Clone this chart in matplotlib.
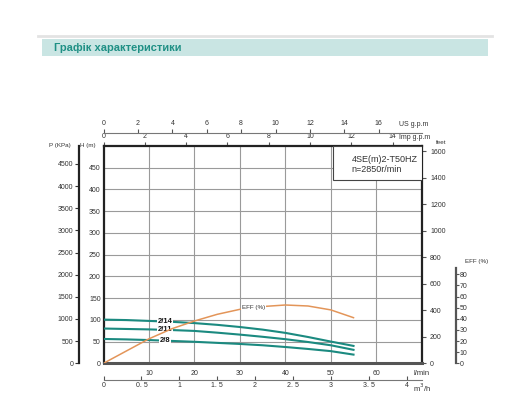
import matplotlib
matplotlib.use("Agg")
import matplotlib.pyplot as plt
from matplotlib.patches import Rectangle
import numpy as np

plt.rcParams['font.family'] = ['Liberation Sans', 'DejaVu Sans']

# flow (l/min) and head (m)
q = [0, 5, 10, 15, 20, 25, 30, 35, 40, 45, 50, 55]
head_2_14 = [100.5, 99.5, 97.5, 95.5, 92.5, 88.5, 83.5, 77.5, 70, 60.5, 50, 40]
head_2_11 = [80, 79, 78, 76.5, 74.5, 70.5, 66, 61, 55.5, 49, 41.5, 31]
head_2_8 = [56, 55, 53.5, 51.5, 49.5, 47, 44.5, 41.5, 37.5, 33, 28, 20]
eff = [0, 11, 22, 31, 38, 44, 48.5, 51, 52.4, 51.5, 48, 41]

curve_names = ['2/14', '2/11', '2/8']
us_ticks = [0, 2, 4, 6, 8, 10, 12, 14, 16]
imp_ticks = [0, 2, 4, 6, 8, 10, 12, 14]
lmin_ticks = [10, 20, 30, 40, 50, 60]
m3h_ticks = [0, 0.5, 1, 1.5, 2, 2.5, 3, 3.5, 4]
m3h_labels = ['0', '0. 5', '1', '1. 5', '2', '2. 5', '3', '3. 5', '4']
h_ticks = [0, 50, 100, 150, 200, 250, 300, 350, 400, 450]
p_ticks = [0, 500, 1000, 1500, 2000, 2500, 3000, 3500, 4000, 4500]
ft_ticks = [0, 200, 400, 600, 800, 1000, 1200, 1400, 1600]
eff_ticks = [0, 10, 20, 30, 40, 50, 60, 70, 80]

W, H = 512, 419
TEAL = '#1b8a80'
ORANGE = '#e39559'
TXT = '#333333'
FS = 5


def fx(px):
    return px / W


def fy(py):
    return 1 - py / H


fig = plt.figure(figsize=(W / 100, H / 100), dpi=100)

# header
fig.add_artist(plt.Line2D([fx(38), fx(492)], [fy(35.7), fy(35.7)], color='#e3e3e3', lw=2))
fig.add_artist(Rectangle((fx(42), fy(56)), fx(488) - fx(42), fy(39.3) - fy(56),
                         facecolor='#c9e5e3', edgecolor='none'))
fig.text(fx(54), fy(47.6), 'Графік характеристики', color='#1f9085', fontsize=8,
         fontweight='bold', va='center', ha='left')

L, R, T, B = 103.5, 421.7, 146, 363.3
ax = fig.add_axes([fx(L), fy(B), fx(R) - fx(L), fy(T) - fy(B)])
ax.set_xlim(0, 70)
ax.set_ylim(0, 500)

ax.grid(True, color='#9a9a9a', lw=0.8)
ax.set_axisbelow(True)
ax.set_xticks(lmin_ticks)
ax.set_xticklabels([str(t) for t in lmin_ticks])
ax.set_yticks(h_ticks)
ax.set_yticklabels([str(t) for t in h_ticks])
ax.tick_params(axis='x', length=0, pad=5, labelsize=FS, labelcolor=TXT)
ax.tick_params(axis='y', length=0, pad=2, labelsize=FS, labelcolor=TXT)
for s in ['top', 'left', 'right']:
    ax.spines[s].set_color('#222222')
    ax.spines[s].set_linewidth(1.6)
ax.spines['bottom'].set_color('#555555')
ax.spines['bottom'].set_linewidth(2.2)

for name, hd in zip(curve_names, [head_2_14, head_2_11, head_2_8]):
    ax.plot(q, hd, color=TEAL, lw=1.5, zorder=3)
    ax.text(13.5, np.interp(13.5, q, hd), name, fontsize=5.5, fontweight='bold',
            ha='center', va='center', color='#111111', zorder=5,
            bbox=dict(facecolor='white', edgecolor='none', pad=0.4))

# model box
ax.add_patch(Rectangle((0.722, 0.843), 0.278, 0.157, transform=ax.transAxes,
                       facecolor='white', edgecolor='#444444', lw=0.8, zorder=4))
ax.text(0.78, 0.916, '4SE(m)2-T50HZ\nn=2850r/min', transform=ax.transAxes,
        fontsize=6.5, color=TXT, ha='left', va='center', linespacing=1.15,
        zorder=6)

# efficiency axis
ax_e = ax.twinx()
ax_e.set_ylim(0, 195.3)
ax_e.plot(q, eff, color=ORANGE, lw=1.1, zorder=3)
ax_e.text(33, np.interp(33, q, eff) + 0.5, 'EFF (%)', fontsize=4.5, ha='center',
          va='center', color=TXT, bbox=dict(facecolor='white', edgecolor='none', pad=0.3))
for s in ['top', 'left', 'bottom']:
    ax_e.spines[s].set_visible(False)
ax_e.spines['right'].set_position(('axes', 1.107))
ax_e.spines['right'].set_bounds(0, 86)
ax_e.spines['right'].set_color('#555555')
ax_e.spines['right'].set_linewidth(1.6)
ax_e.set_yticks(eff_ticks)
ax_e.set_yticklabels([str(t) for t in eff_ticks])
ax_e.tick_params(axis='y', length=2, pad=1, labelsize=FS, labelcolor=TXT, color='#555555')
ax_e.text(1.135, 91.5, 'EFF (%)', transform=ax_e.get_yaxis_transform(), fontsize=4.5,
          color=TXT, ha='left', va='center')

# feet axis
ax_ft = ax.secondary_yaxis('right', functions=(lambda h: h * 3.2808, lambda f: f / 3.2808))
ax_ft.set_yticks(ft_ticks)
ax_ft.tick_params(length=3, pad=3, labelsize=FS, labelcolor=TXT, color='#555555')
ax_ft.spines['right'].set_visible(False)
ax.text(1.045, 1.014, 'feet', transform=ax.transAxes, fontsize=4.5, color=TXT,
        ha='left', va='center')

# pressure axis
ax_p = ax.secondary_yaxis(-0.077, functions=(lambda h: h * 9.81, lambda p: p / 9.81))
ax_p.set_yticks(p_ticks)
ax_p.tick_params(length=3, pad=1, labelsize=FS, labelcolor=TXT, color='#333333')
ax_p.spines['left'].set_linewidth(1.6)
ax_p.spines['left'].set_color('#222222')
ax.text(-0.17, 1.0, 'P (KPa)', transform=ax.transAxes, fontsize=4.5, color=TXT,
        ha='left', va='center')
ax.text(-0.05, 1.0, 'H (m)', transform=ax.transAxes, fontsize=4.5, color=TXT,
        ha='center', va='center')

# imperial gpm on top spine
ax_imp = ax.secondary_xaxis('top', functions=(lambda v: v / 4.546, lambda g: g * 4.546))
ax_imp.set_xticks(imp_ticks)
ax_imp.tick_params(length=3, pad=1, labelsize=FS, labelcolor=TXT, color='#555555')
ax_imp.spines['top'].set_visible(False)
ax.text(0.93, 1.038, 'Imp g.p.m', transform=ax.transAxes, fontsize=FS, color=TXT,
        ha='left', va='center')

# US gpm
ax_us = ax.secondary_xaxis(1.061, functions=(lambda v: v / 3.785, lambda g: g * 3.785))
ax_us.set_xticks(us_ticks)
ax_us.tick_params(length=3, pad=1, labelsize=FS, labelcolor=TXT, color='#555555')
ax_us.spines['top'].set_color('#777777')
ax_us.spines['bottom'].set_color('#777777')
ax.text(0.93, 1.10, 'US g.p.m', transform=ax.transAxes, fontsize=FS, color=TXT,
        ha='left', va='center')

ax.text(1.0, -0.045, 'l/min', transform=ax.transAxes, fontsize=5.5, color=TXT,
        ha='center', va='center')

# m3/h
ax_m = ax.secondary_xaxis(-0.077, functions=(lambda v: v * 0.06, lambda m: m / 0.06))
ax_m.set_xticks(m3h_ticks)
ax_m.set_xticklabels(m3h_labels)
ax_m.tick_params(direction='in', length=3, pad=1.5, labelsize=FS, labelcolor=TXT,
                 color='#555555')
ax_m.spines['bottom'].set_color('#777777')
ax.text(1.0, -0.115, 'm$^3$/h', transform=ax.transAxes, fontsize=5.5, color=TXT,
        ha='center', va='center')

fig.savefig('out.png', dpi=100)
